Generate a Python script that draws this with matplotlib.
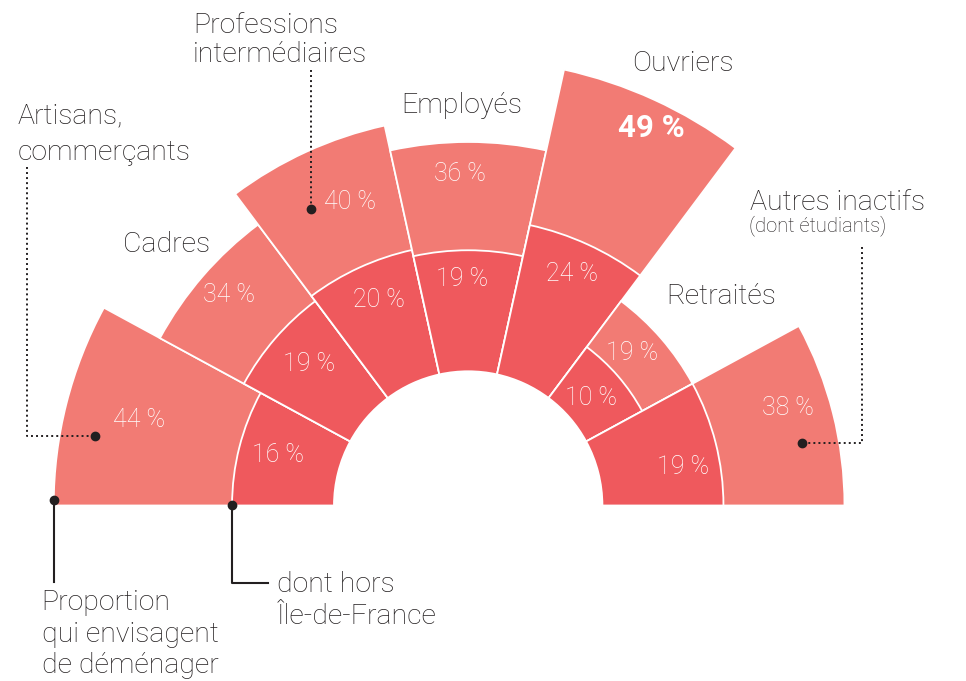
import numpy as np
import matplotlib.pyplot as plt
from matplotlib.patches import Wedge

# data
categories = ["Artisans,\ncommerçants", "Cadres", "Professions\nintermédiaires",
              "Employés", "Ouvriers", "Retraités", "Autres inactifs"]
envisagent = [44, 34, 40, 36, 49, 19, 38]   # proportion qui envisagent de déménager
hors_idf = [16, 19, 20, 19, 24, 10, 19]     # dont hors Île-de-France

# layout (pixels of the 966x681 picture)
W, H = 966, 681
CX, CY = 468.2, 505.5      # centre of the half circle
K = 6.37                   # pixels per percentage point
HOLE = 21.07               # hole radius, in percentage points
sector_widths = [28.5, 24.7, 24.4, 24.8, 24.4, 24.7, 28.5]

OUTER = "#F27B74"
INNER = "#EF595D"
DARK = "#231F20"
FONT = ["Roboto", "DejaVu Sans"]
LABEL_SIZE = 20.5

outer_lbl_px = [(139, 420), (229, 295), (350.5, 201.7), (460, 173.5),
                (651, 128), (632.5, 352.5), (788, 408.3)]
inner_lbl_px = [(277.8, 455), (309, 364), (378.8, 300), (461.7, 279),
                (572, 274), (590.7, 398), (683, 466.7)]
cat_lbl_px = [(18, 123, 37), (123, 252, 0), (193, 33.3, 28.4), (401.7, 113.3, 0),
              (631.7, 70.7, 0), (666, 304, 0), (750, 210, 0)]


def px(x, y):
    return (x - CX) / K, (CY - y) / K


def polar(angle, r):
    a = np.radians(angle)
    return r * np.cos(a), r * np.sin(a)


fig = plt.figure(figsize=(W / 100, H / 100), dpi=100)
ax = fig.add_axes([0, 0, 1, 1])
ax.set_xlim(-CX / K, (W - CX) / K)
ax.set_ylim((CY - H) / K, CY / K)
ax.axis("off")

edges = 180 - np.concatenate([[0], np.cumsum(sector_widths)])

# wedges: outer bar from the hole, inner ring drawn on top
for i in range(len(categories)):
    t1, t2 = edges[i + 1], edges[i]
    ax.add_patch(Wedge((0, 0), HOLE + envisagent[i], t1, t2, width=envisagent[i],
                       fc=OUTER, ec="white", lw=1.3))
    ax.add_patch(Wedge((0, 0), HOLE + hors_idf[i], t1, t2, width=hors_idf[i],
                       fc=INNER, ec="white", lw=1.3))

# value labels
for i in range(len(categories)):
    bold = envisagent[i] == max(envisagent)
    x, y = px(*outer_lbl_px[i])
    ax.text(x, y, f"{envisagent[i]} %", color="white", ha="center", va="center",
            fontsize=22.5 if bold else 18, fontweight="bold" if bold else "light",
            family=FONT)
    x, y = px(*inner_lbl_px[i])
    ax.text(x, y, f"{hors_idf[i]} %", color="white", ha="center", va="center",
            fontsize=18, fontweight="light", family=FONT)

# category labels
for name, (lx, ly, step) in zip(categories, cat_lbl_px):
    for j, line in enumerate(name.split("\n")):
        x, y = px(lx, ly + j * step)
        ax.text(x, y, line, color=DARK, fontsize=LABEL_SIZE, fontweight="light",
                ha="left", va="baseline", family=FONT)
x, y = px(749, 231.7)
ax.text(x, y, "(dont étudiants)", color=DARK, fontsize=14.5, fontweight="light",
        ha="left", va="baseline", family=FONT)

# legend texts at the bottom
for j, line in enumerate(["Proportion", "qui envisagent", "de déménager"]):
    x, y = px(41.7, 610 + j * 31.7)
    ax.text(x, y, line, color=DARK, fontsize=LABEL_SIZE, fontweight="light",
            ha="left", va="baseline", family=FONT)
for j, line in enumerate(["dont hors", "Île-de-France"]):
    x, y = px(276.7, 591.7 + j * 32.3)
    ax.text(x, y, line, color=DARK, fontsize=LABEL_SIZE, fontweight="light",
            ha="left", va="baseline", family=FONT)

# dotted leaders
dot_kw = dict(color=DARK, lw=1.4, linestyle=(0, (1, 1.6)))
pts = [px(26.7, 167), px(26.7, 435.7), px(95, 435.7)]
ax.plot([p[0] for p in pts], [p[1] for p in pts], **dot_kw)
ax.plot(*pts[-1], "o", color=DARK, ms=6)
pts = [px(311, 70), px(311, 209)]
ax.plot([p[0] for p in pts], [p[1] for p in pts], **dot_kw)
ax.plot(*pts[-1], "o", color=DARK, ms=6)
pts = [px(861.7, 246.7), px(861.7, 443.3), px(802.3, 443.3)]
ax.plot([p[0] for p in pts], [p[1] for p in pts], **dot_kw)
ax.plot(*pts[-1], "o", color=DARK, ms=6)

# solid leaders for the legend
x0, y0 = polar(179.2, HOLE + envisagent[0])
ax.plot([x0, x0], [y0, px(0, 582)[1]], color=DARK, lw=1.5)
ax.plot(x0, y0, "o", color=DARK, ms=6)
x1, y1 = polar(179.9, HOLE + hors_idf[0])
ax.plot([x1, x1, px(268, 0)[0]], [y1, px(0, 583.3)[1], px(0, 583.3)[1]],
        color=DARK, lw=1.5)
ax.plot(x1, y1, "o", color=DARK, ms=6)

fig.savefig("out.png", dpi=100)
